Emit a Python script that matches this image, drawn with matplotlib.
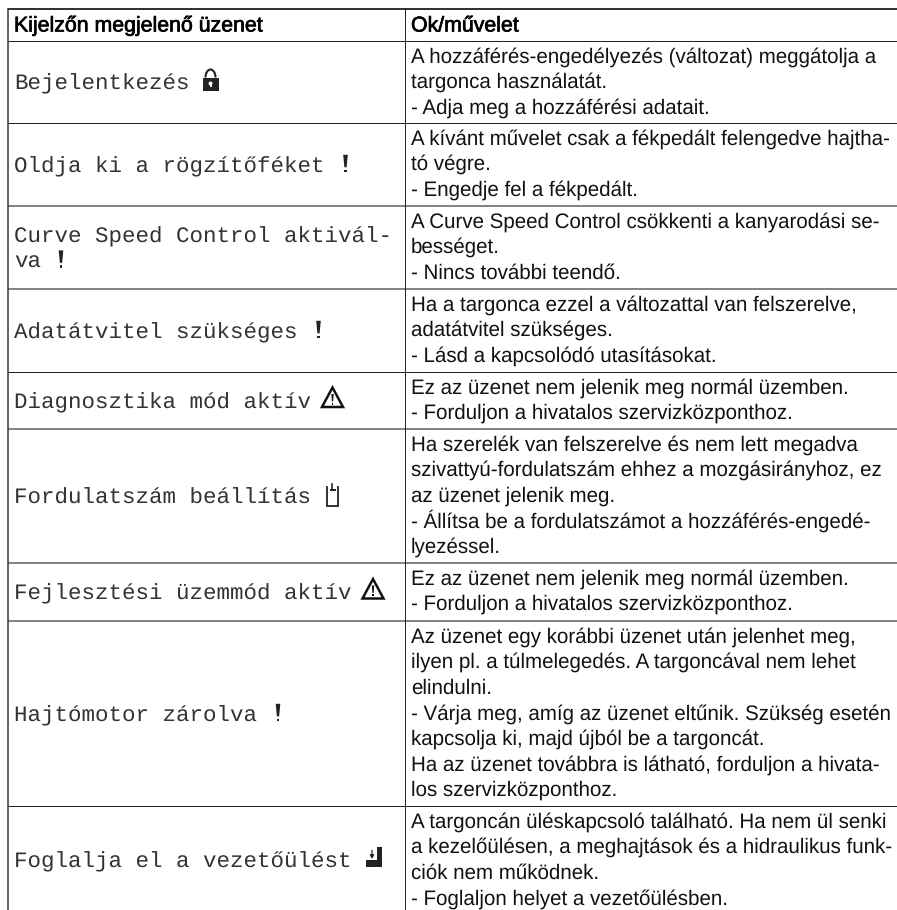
import matplotlib
matplotlib.use("Agg")
import matplotlib.pyplot as plt
import matplotlib.patheffects as pe
from matplotlib.patches import Polygon, Rectangle, Arc, Circle

plt.rcParams["text.hinting"] = "no_hinting"
plt.rcParams["text.hinting_factor"] = 8

W, H = 897, 910
header = ["Kijelzőn megjelenő üzenet", "Ok/művelet"]
messages = [
    ["Bejelentkezés"],
    ["Oldja ki a rögzítőféket"],
    ["Curve Speed Control aktivál-", "va"],
    ["Adatátvitel szükséges"],
    ["Diagnosztika mód aktív"],
    ["Fordulatszám beállítás"],
    ["Fejlesztési üzemmód aktív"],
    ["Hajtómotor zárolva"],
    ["Foglalja el a vezetőülést"],
]
icons = ["lock", "excl", "excl", "excl", "warn", "pump", "warn", "excl", "seat"]
causes = [
    ["A hozzáférés-engedélyezés (változat) meggátolja a", "targonca használatát.", "- Adja meg a hozzáférési adatait."],
    ["A kívánt művelet csak a fékpedált felengedve hajtha-", "tó végre.", "- Engedje fel a fékpedált."],
    ["A Curve Speed Control csökkenti a kanyarodási se-", "bességet.", "- Nincs további teendő."],
    ["Ha a targonca ezzel a változattal van felszerelve,", "adatátvitel szükséges.", "- Lásd a kapcsolódó utasításokat."],
    ["Ez az üzenet nem jelenik meg normál üzemben.", "- Forduljon a hivatalos szervizközponthoz."],
    ["Ha szerelék van felszerelve és nem lett megadva", "szivattyú-fordulatszám ehhez a mozgásirányhoz, ez", "az üzenet jelenik meg.", "- Állítsa be a fordulatszámot a hozzáférés-engedé-", "lyezéssel."],
    ["Ez az üzenet nem jelenik meg normál üzemben.", "- Forduljon a hivatalos szervizközponthoz."],
    ["Az üzenet egy korábbi üzenet után jelenhet meg,", "ilyen pl. a túlmelegedés. A targoncával nem lehet", "elindulni.", "- Várja meg, amíg az üzenet eltűnik. Szükség esetén", "kapcsolja ki, majd újból be a targoncát.", "Ha az üzenet továbbra is látható, forduljon a hivata-", "los szervizközponthoz."],
    ["A targoncán üléskapcsoló található. Ha nem ül senki", "a kezelőülésen, a meghajtások és a hidraulikus funk-", "ciók nem működnek.", "- Foglaljon helyet a vezetőülésben."],
]
row_tops = [40.5, 122.5, 205.5, 288.5, 371.5, 428.5, 562.5, 620.5, 805.5, 913]
row_grey = [False, False, True, True, False, True, True, True, False]

fig = plt.figure(figsize=(W/100, H/100), dpi=100, facecolor="white")
ax = fig.add_axes([0, 0, 1, 1])
ax.set_xlim(0, W); ax.set_ylim(H, 0); ax.axis("off")

PX = 0.72
SANS = "Liberation Sans"; MONO = "Liberation Mono"
SIZE_S = 20.55 * PX; SIZE_H = 21.3 * PX; SIZE_M = 22.5 * PX
INK = "#111111"; LINE = "#222222"; CHAR = 13.5
X_L, X_M = 7.5, 404.5

for x, t in zip((14, 411), header):
    ax.text(x, 31.5, t, family=SANS, size=SIZE_H, color="black", va="baseline",
            path_effects=[pe.withStroke(linewidth=0.5, foreground="black")])

ax.plot([X_L, W], [8.5, 8.5], color="#111111", lw=PX*1.7, solid_capstyle="butt")
ax.plot([X_L, W], [40.5, 40.5], color=LINE, lw=PX, solid_capstyle="butt")
for y, g in zip(row_tops[1:-1], row_grey[1:]):
    ax.plot([X_L, W], [y, y], color="#666666" if g else LINE, lw=PX*(1.6 if g else 1), solid_capstyle="butt")
ax.plot([X_L, X_L], [8, H], color="#333333", lw=PX*1.5, solid_capstyle="butt")
ax.plot([X_M, X_M], [8, H], color=LINE, lw=PX, solid_capstyle="butt")

def excl(x, base):
    ax.add_patch(Polygon([[x-2.3, base-17.5], [x+2.3, base-17.5], [x+1.1, base-5], [x-1.1, base-5]], fc="#222222", ec="none"))
    ax.add_patch(Rectangle((x-1.4, base-2.8), 2.8, 2.8, fc="#222222", ec="none"))

def warn(x0, c):
    ax.add_patch(Polygon([[x0+11.5, c-10], [x0+22, c+9.5], [x0+1, c+9.5]], closed=True, fill=False, ec="#111111", lw=1.8, joinstyle="miter"))
    ax.add_patch(Polygon([[x0+10.3, c-3.5], [x0+12.7, c-3.5], [x0+12.1, c+4], [x0+10.9, c+4]], fc="#111111", ec="none"))
    ax.add_patch(Rectangle((x0+10.6, c+5), 1.8, 2, fc="#111111", ec="none"))

def lock(x0, c):
    ax.add_patch(Arc((x0+8, c-3), 10, 16, theta1=180, theta2=360, color="#222222", lw=1.5))
    ax.add_patch(Rectangle((x0, c-3), 16, 13, fc="#222222", ec="none"))
    ax.add_patch(Circle((x0+8, c+3), 2, fc="white", ec="none"))
    ax.add_patch(Rectangle((x0+7, c+3), 2, 3.5, fc="white", ec="none"))

def pump(x0, c):
    ax.plot([x0+0.5, x0+0.5, x0+12, x0+12], [c-9, c+10, c+10, c-9], color="#222222", lw=1.3, solid_joinstyle="miter")
    ax.add_patch(Rectangle((x0+3.5, c-7), 6, 2.4, fc="#222222", ec="none"))
    ax.plot([x0+6.3, x0+6.3], [c-12, c-6], color="#222222", lw=1.2)

def seat(x0, base):
    ax.add_patch(Polygon([[x0+10.5, base-20], [x0+16, base-20], [x0+16, base], [x0, base], [x0, base-7], [x0+10.5, base-7]], fc="#222222", ec="none"))
    ax.annotate("", xy=(x0+6, base-8.5), xytext=(x0+6, base-17), arrowprops=dict(arrowstyle="-|>,head_width=0.12,head_length=0.2", color="#222222", lw=0.9, shrinkA=0, shrinkB=0))

for i, (msg, icon, cause) in enumerate(zip(messages, icons, causes)):
    top, bot = row_tops[i], row_tops[i+1]
    c = (top + bot) / 2
    base = c + 8 - 12.6 * (len(msg) - 1)
    for k, line in enumerate(msg):
        ax.text(14, base + 25.2*k, line, family=MONO, size=SIZE_M, color="#333333", va="baseline")
    last = base + 25.2*(len(msg)-1)
    end = 14 + CHAR*len(msg[-1])
    if icon == "excl":
        excl(end + 21 - (1 if len(msg) > 1 else 0), last + 0.3)
    elif icon == "warn":
        warn(end + 10, c - 2.5)
    elif icon == "lock":
        lock(end + 13, c - 1)
    elif icon == "pump":
        pump(end + 15, c)
    elif icon == "seat":
        seat(end + 14.5, last)
    for k, line in enumerate(cause):
        ax.text(411, top + 22.0 + 25.6*k, line, family=SANS, size=SIZE_S, color=INK, va="baseline")

fig.savefig("out.png", dpi=100, facecolor="white")
